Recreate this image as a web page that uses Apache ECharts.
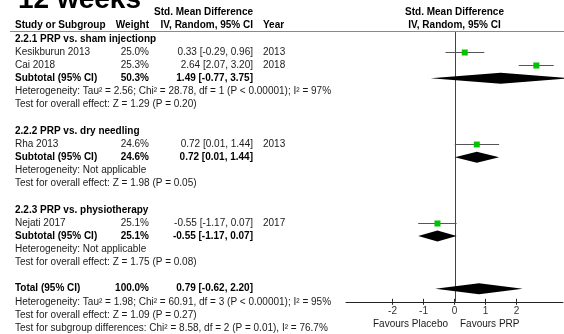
<!DOCTYPE html>
<html><head><meta charset="utf-8">
<script src="https://cdn.jsdelivr.net/npm/echarts@6/dist/echarts.min.js"></script>
<style>html,body{margin:0;padding:0;background:#fff}#c{width:564px;height:334px}</style>
</head><body><div id="c"></div>
<script>
// ---------- data ----------
const title = '12 weeks';
const groupNames = ['2.2.1 PRP vs. sham injectionp', '2.2.2 PRP vs. dry needling', '2.2.3 PRP vs. physiotherapy'];
const studyNames = ['Kesikburun 2013', 'Cai 2018', 'Rha 2013', 'Nejati 2017'];
const studyGroup = [0, 0, 1, 2];
const studyYears = ['2013', '2018', '2013', '2017'];
const studyWeights = [25.0, 25.3, 24.6, 25.1];
const studySMD = [0.33, 2.64, 0.72, -0.55];
const studyLow = [-0.29, 2.07, 0.01, -1.17];
const studyHigh = [0.96, 3.20, 1.44, 0.07];
const subWeights = [50.3, 24.6, 25.1];
const subSMD = [1.49, 0.72, -0.55];
const subLow = [-0.77, 0.01, -1.17];
const subHigh = [3.75, 1.44, 0.07];
const subHet = ['Heterogeneity: Tau\u00b2 = 2.56; Chi\u00b2 = 28.78, df = 1 (P < 0.00001); I\u00b2 = 97%', 'Heterogeneity: Not applicable', 'Heterogeneity: Not applicable'];
const subTest = ['Test for overall effect: Z = 1.29 (P = 0.20)', 'Test for overall effect: Z = 1.98 (P = 0.05)', 'Test for overall effect: Z = 1.75 (P = 0.08)'];
const totalWeight = [100.0];
const totalSMD = [0.79];
const totalLow = [-0.62];
const totalHigh = [2.20];
const totalHet = 'Heterogeneity: Tau\u00b2 = 1.98; Chi\u00b2 = 60.91, df = 3 (P < 0.00001); I\u00b2 = 95%';
const totalTest = 'Test for overall effect: Z = 1.09 (P = 0.27)';
const subgroupTest = 'Test for subgroup differences: Chi\u00b2 = 8.58, df = 2 (P = 0.01), I\u00b2 = 76.7%';
const xTicks = [-2, -1, 0, 1, 2];
const favoursLeft = 'Favours Placebo';
const favoursRight = 'Favours PRP';
const headers = ['Study or Subgroup', 'Weight', 'Std. Mean Difference', 'IV, Random, 95% CI', 'Year'];

// ---------- layout ----------
const W = 564, H = 334;
const ROW0 = 12.5, ROWH = 13.15, NROWS = 24;
const COL_STUDY = 15, COL_WEIGHT = 149, COL_EST = 253, COL_YEAR = 263;
const PLOT_LEFT = 346, PLOT_W = 217, XMIN = -3.5, XMAX = 3.5;
const AXIS_ROW = 22, HEAD_LINE_Y = 31;
const PLOT_CENTER = PLOT_LEFT + PLOT_W * (0 - XMIN) / (XMAX - XMIN);
const FONT = '"Liberation Sans", Arial, sans-serif';
const TXT = '#1a1a1a';

const f2 = v => v.toFixed(2);
const ci = (e, l, h) => f2(e) + ' [' + f2(l) + ', ' + f2(h) + ']';
const texts = [];
const marks = [];
function T(x, row, text, align, bold, size) {
  texts.push({ x, row, text, align: align || 'left', bold: !!bold, size: size || 10 });
}
// header rows
T(COL_EST, 0, headers[2], 'right', true);
T(PLOT_CENTER, 0, headers[2], 'center', true);
T(COL_STUDY, 1, headers[0], 'left', true);
T(COL_WEIGHT, 1, headers[1], 'right', true);
T(COL_EST, 1, headers[3], 'right', true);
T(COL_YEAR, 1, headers[4], 'left', true);
T(PLOT_CENTER, 1, headers[3], 'center', true);

let row = 2;
groupNames.forEach((g, gi) => {
  T(COL_STUDY, row, g, 'left', true); row++;
  studyNames.forEach((s, si) => {
    if (studyGroup[si] !== gi) return;
    T(COL_STUDY, row, s);
    T(COL_WEIGHT, row, studyWeights[si].toFixed(1) + '%', 'right');
    T(COL_EST, row, ci(studySMD[si], studyLow[si], studyHigh[si]), 'right');
    T(COL_YEAR, row, studyYears[si]);
    marks.push([studySMD[si], row, studyLow[si], studyHigh[si], studyWeights[si], 0]);
    row++;
  });
  T(COL_STUDY, row, 'Subtotal (95% CI)', 'left', true);
  T(COL_WEIGHT, row, subWeights[gi].toFixed(1) + '%', 'right', true);
  T(COL_EST, row, ci(subSMD[gi], subLow[gi], subHigh[gi]), 'right', true);
  marks.push([subSMD[gi], row, subLow[gi], subHigh[gi], subWeights[gi], 1]);
  row++;
  T(COL_STUDY, row, subHet[gi]); row++;
  T(COL_STUDY, row, subTest[gi]); row++;
  row++;
});
T(COL_STUDY, row, 'Total (95% CI)', 'left', true);
T(COL_WEIGHT, row, totalWeight[0].toFixed(1) + '%', 'right', true);
T(COL_EST, row, ci(totalSMD[0], totalLow[0], totalHigh[0]), 'right', true);
marks.push([totalSMD[0], row, totalLow[0], totalHigh[0], totalWeight[0], 1]);
row++;
T(COL_STUDY, row, totalHet); row++;
T(COL_STUDY, row, totalTest); row++;
T(COL_STUDY, row, subgroupTest); row++;
// favours labels (below axis)
T(PLOT_CENTER - 6.5, 23.7, favoursLeft, 'right', false, 10);
T(PLOT_CENTER + 5.5, 23.7, favoursRight, 'left', false, 10);

const plotTop = HEAD_LINE_Y;
const axisY = ROW0 + AXIS_ROW * ROWH;
const yMinForest = (plotTop - ROW0) / ROWH;

const chart = echarts.init(document.getElementById('c'), null, { renderer: 'canvas' });
chart.setOption({
  animation: false,
  backgroundColor: '#fff',
  grid: [
    { left: PLOT_LEFT, width: PLOT_W, top: plotTop, height: axisY - plotTop, containLabel: false },
    { left: 0, width: W, top: ROW0, height: NROWS * ROWH, containLabel: false }
  ],
  xAxis: [
    { type: 'value', gridIndex: 0, min: XMIN, max: XMAX, position: 'bottom',
      axisLine: { show: true, lineStyle: { color: '#222', width: 1 } },
      axisTick: { show: true, length: 3, customValues: xTicks, lineStyle: { color: '#222' } },
      axisLabel: { show: true, customValues: xTicks, margin: 4, fontSize: 10, color: '#333', fontFamily: FONT },
      splitLine: { show: false } },
    { type: 'value', gridIndex: 0, min: XMIN, max: XMAX, position: 'bottom',
      axisLine: { show: false },
      axisTick: { show: true, inside: true, length: 3, customValues: xTicks, lineStyle: { color: '#222' } },
      axisLabel: { show: false }, splitLine: { show: false } },
    { type: 'value', gridIndex: 1, min: 0, max: W, show: false }
  ],
  yAxis: [
    { type: 'value', gridIndex: 0, min: yMinForest, max: AXIS_ROW, inverse: true, show: false },
    { type: 'value', gridIndex: 1, min: 0, max: NROWS, inverse: true, show: false }
  ],
  graphic: [
    { type: 'line', shape: { x1: 10, y1: HEAD_LINE_Y + 0.5, x2: W, y2: HEAD_LINE_Y + 0.5 }, style: { stroke: '#8a8a8a', lineWidth: 1 }, z: 10 },
    { type: 'text', x: 18, y: 0, style: { text: title, font: 'bold 28px ' + FONT, fill: '#000', textAlign: 'left', textVerticalAlign: 'middle', align: 'left', verticalAlign: 'middle' }, z: 10 }
  ],
  series: [
    { // zero line
      type: 'custom', xAxisIndex: 0, yAxisIndex: 0, data: [[0]], clip: false, z: 2,
      renderItem: (p, api) => {
        const a = api.coord([0, yMinForest]), b = api.coord([0, AXIS_ROW]);
        const x = Math.round(a[0]) + 0.5;
        return { type: 'line', shape: { x1: x, y1: a[1], x2: x, y2: b[1] }, style: { stroke: '#444', lineWidth: 1 } };
      }
    },
    { // studies and diamonds
      type: 'custom', xAxisIndex: 0, yAxisIndex: 0, data: marks, clip: false, z: 3,
      renderItem: (p, api) => {
        const est = api.value(0), r = api.value(1), lo = api.value(2), hi = api.value(3), w = api.value(4), kind = api.value(5);
        const c = api.coord([est, r]), l = api.coord([lo, r]), h = api.coord([hi, r]);
        if (kind === 0) {
          const s = w * 0.24;
          const y = Math.round(c[1]) + 0.5;
          return { type: 'group', children: [
            { type: 'line', shape: { x1: l[0], y1: y, x2: h[0], y2: y }, style: { stroke: '#555', lineWidth: 1 } },
            { type: 'rect', shape: { x: c[0] - s / 2, y: y - s / 2, width: s, height: s }, style: { fill: '#00c400' } }
          ] };
        }
        const hh = 5.5;
        return { type: 'polygon', shape: { points: [[l[0], c[1]], [c[0], c[1] - hh], [h[0], c[1]], [c[0], c[1] + hh]] }, style: { fill: '#000' } };
      }
    },
    { // text table
      type: 'custom', xAxisIndex: 2, yAxisIndex: 1, data: texts.map(t => [t.x, t.row]), clip: false, z: 5,
      renderItem: (p, api) => {
        const t = texts[p.dataIndex];
        const pt = api.coord([t.x, t.row]);
        return { type: 'text', x: pt[0], y: pt[1], style: {
          text: t.text, x: 0, y: 0, font: (t.bold ? 'bold ' : '') + t.size + 'px ' + FONT,
          fill: t.bold ? '#000' : TXT, textAlign: t.align, textVerticalAlign: 'middle', align: t.align, verticalAlign: 'middle' } };
      }
    }
  ]
});
</script></body></html>
